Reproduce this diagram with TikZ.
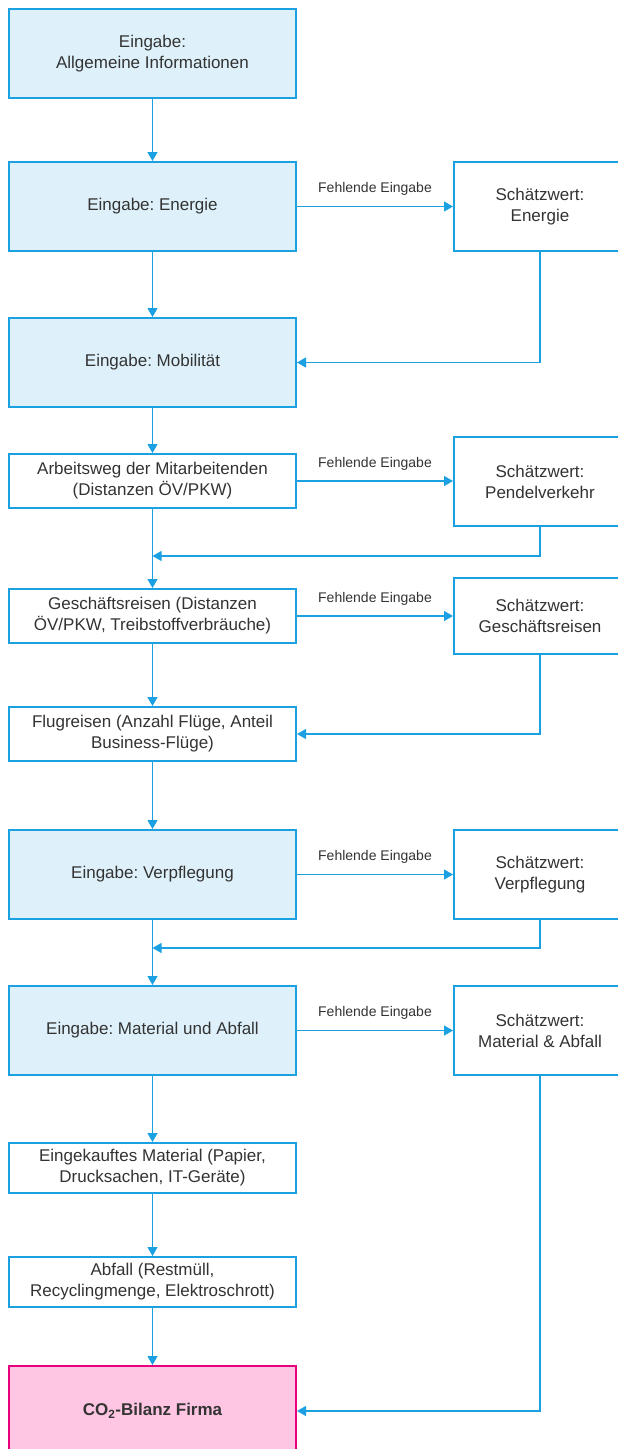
\documentclass[tikz,border=0pt]{standalone}
\usepackage{fontspec}
\setmainfont{Liberation Sans}
\frenchspacing
\usetikzlibrary{arrows.meta}
\definecolor{rahmen}{HTML}{1BA1E2}
\definecolor{hellblau}{HTML}{DEF1FA}
\definecolor{rosa}{HTML}{FFC6E3}
\definecolor{pink}{HTML}{E6007E}
\definecolor{schrift}{HTML}{333333}
\tikzset{
	kasten/.style={draw=rahmen, line width=2pt, fill=white, text=schrift, align=center, inner sep=0pt, minimum width=287pt, font=\fontsize{17}{21}\selectfont},
	eingabe/.style={kasten, fill=hellblau, minimum height=89pt},
	schritt/.style={kasten, minimum height=54pt},
	schaetz/.style={kasten, minimum width=172pt},
	ziel/.style={kasten, draw=pink, fill=rosa, minimum height=90pt, font=\fontsize{17}{21}\selectfont\bfseries},
	pfeil/.style={draw=rahmen, line width=1.3pt, -{Triangle[length=9pt,width=10pt]}},
	fehlt/.style={above=10pt, inner sep=0pt, text=schrift, font=\fontsize{14}{16}\selectfont}
}

\begin{document}
\begin{tikzpicture}[x=1pt, y=-1pt]
		%%%%% START %%%%%
		
		\useasboundingbox (0, 0) rectangle (618, 1449);
		
		\node[eingabe] (info) at (152.5, 53.5) {Eingabe:\\Allgemeine Informationen};
		\node[eingabe] (energie) at (152.5, 206.5) {Eingabe: Energie};
		\node[eingabe] (mobil) at (152.5, 362.5) {Eingabe: Mobilität};
		\node[schritt] (arbeitsweg) at (152.5, 481) {Arbeitsweg der Mitarbeitenden\\(Distanzen ÖV/PKW)};
		\node[schritt] (reisen) at (152.5, 616) {Geschäftsreisen (Distanzen\\ÖV/PKW, Treibstoffverbräuche)};
		\node[schritt] (flug) at (152.5, 734) {Flugreisen (Anzahl Flüge, Anteil\\Business-Flüge)};
		\node[eingabe] (verpflegung) at (152.5, 874.5) {Eingabe: Verpflegung};
		\node[eingabe] (material) at (152.5, 1030.5) {Eingabe: Material und Abfall};
		\node[schritt, minimum height=50pt] (einkauf) at (152.5, 1168) {Eingekauftes Material (Papier,\\Drucksachen, IT-Geräte)};
		\node[schritt, minimum height=50pt] (abfall) at (152.5, 1282) {Abfall (Restmüll,\\Recyclingmenge, Elektroschrott)};
		\node[ziel] (bilanz) at (152.5, 1411) {CO\textsubscript{2}-Bilanz Firma};
		
		\node[schaetz, minimum height=89pt] (schEnergie) at (540, 206.5) {Schätzwert:\\Energie};
		\node[schaetz, minimum height=89pt] (schPendel) at (540, 481.5) {Schätzwert:\\Pendelverkehr};
		\node[schaetz, minimum height=76pt] (schReisen) at (540, 616) {Schätzwert:\\Geschäftsreisen};
		\node[schaetz, minimum height=89pt] (schVerpflegung) at (540, 874.5) {Schätzwert:\\Verpflegung};
		\node[schaetz, minimum height=89pt] (schMaterial) at (540, 1030.5) {Schätzwert:\\Material \& Abfall};
		
		\coordinate (merge1) at (152.5, 556);
		\coordinate (merge2) at (152.5, 948);
		
		\draw[pfeil] (info) -- (energie);
		\draw[pfeil] (energie) -- (mobil);
		\draw[pfeil] (mobil) -- (arbeitsweg);
		\draw[pfeil] (arbeitsweg) -- (reisen);
		\draw[pfeil] (reisen) -- (flug);
		\draw[pfeil] (flug) -- (verpflegung);
		\draw[pfeil] (verpflegung) -- (material);
		\draw[pfeil] (material) -- (einkauf);
		\draw[pfeil] (einkauf) -- (abfall);
		\draw[pfeil] (abfall) -- (bilanz);
		
		\draw[pfeil] (energie.east) -- node[fehlt] {Fehlende Eingabe} (energie.east -| schEnergie.west);
		\draw[pfeil] (arbeitsweg.east) -- node[fehlt] {Fehlende Eingabe} (arbeitsweg.east -| schPendel.west);
		\draw[pfeil] (reisen.east) -- node[fehlt] {Fehlende Eingabe} (reisen.east -| schReisen.west);
		\draw[pfeil] (verpflegung.east) -- node[fehlt] {Fehlende Eingabe} (verpflegung.east -| schVerpflegung.west);
		\draw[pfeil] (material.east) -- node[fehlt] {Fehlende Eingabe} (material.east -| schMaterial.west);
		
		\draw[pfeil] (schEnergie.south) |- (mobil.east);
		\draw[pfeil] (schPendel.south) |- (merge1);
		\draw[pfeil] (schReisen.south) |- (flug.east);
		\draw[pfeil] (schVerpflegung.south) |- (merge2);
		\draw[pfeil] (schMaterial.south) |- (bilanz.east);
		
		%%%%% END %%%%%
\end{tikzpicture}
\end{document}
